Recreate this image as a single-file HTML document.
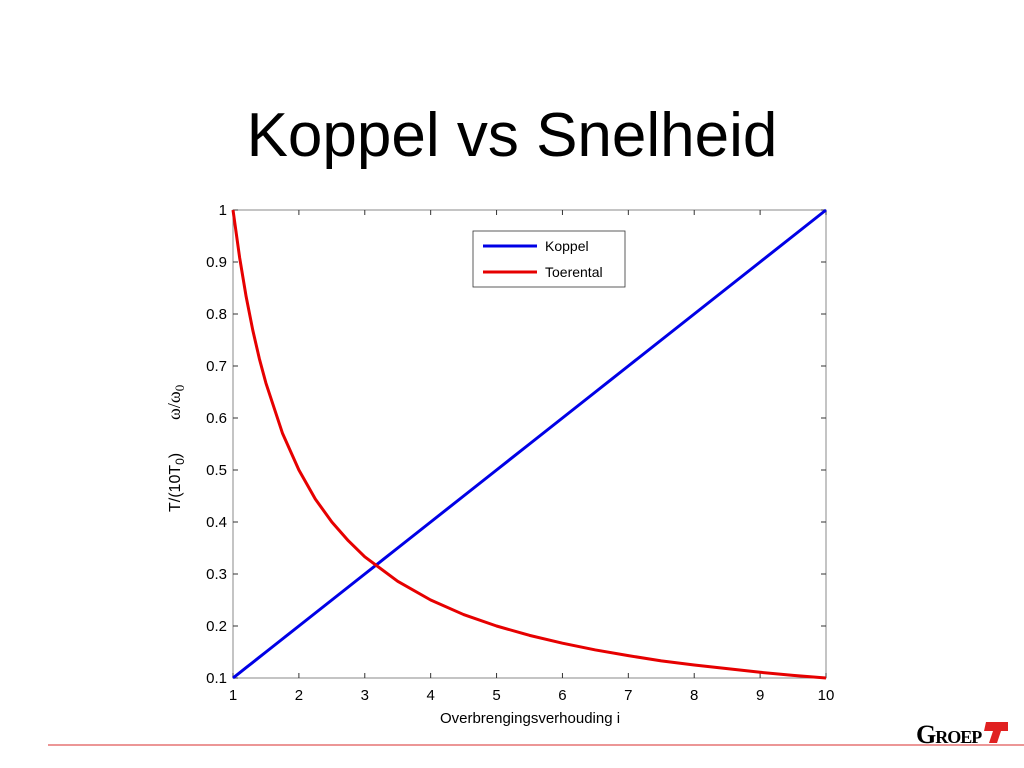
<!DOCTYPE html>
<html><head><meta charset="utf-8"><style>
body{margin:0;background:#fff;width:1024px;height:768px;overflow:hidden;font-family:"Liberation Sans",sans-serif}
svg{position:absolute;left:0;top:0}
</style></head><body>
<svg width="1024" height="768">
<text x="512" y="156" font-size="62" text-anchor="middle">Koppel vs Snelheid</text>
<rect x="233" y="210" width="593" height="468" fill="none" stroke="#888" stroke-width="1"/>
<g id="ticks"></g>
<g id="lines"></g>
<text x="530" y="723" font-size="15" text-anchor="middle">Overbrengingsverhouding i</text>
<g transform="translate(180,512) rotate(-90)">
<text x="0" y="0" font-size="16">T/(10T<tspan font-size="12" dy="4">0</tspan><tspan dy="-4">)</tspan></text>
<text x="92" y="0" font-size="18" font-family="Liberation Serif">ω/ω<tspan font-size="13" dy="4">0</tspan></text>
</g>
<g>
<rect x="473" y="231" width="152" height="56" fill="#fff" stroke="#333" stroke-width="0.8"/>
<line x1="483" y1="246" x2="537" y2="246" stroke="#0000e6" stroke-width="3"/>
<text x="545" y="251" font-size="14">Koppel</text>
<line x1="483" y1="272" x2="537" y2="272" stroke="#e60000" stroke-width="3"/>
<text x="545" y="277" font-size="14">Toerental</text>
</g>
<line x1="48" y1="745" x2="1024" y2="745" stroke="#e57373" stroke-width="1.5"/>
<g>
<text x="916" y="743" font-size="26" font-family="Liberation Serif" font-weight="bold" letter-spacing="-1">G<tspan font-size="18">ROEP</tspan></text>
<path d="M986 722 H1008 V731 H1001 L997 743 H989 L993 731 H984 Z" fill="#e02020"/>
</g>
</svg>
<script>
const xTicks=[1,2,3,4,5,6,7,8,9,10];
const yTicks=[0.1,0.2,0.3,0.4,0.5,0.6,0.7,0.8,0.9,1];
const yTickLabels=["0.1","0.2","0.3","0.4","0.5","0.6","0.7","0.8","0.9","1"];
const iValues=[1,1.1,1.2,1.3,1.4,1.5,1.75,2,2.25,2.5,2.75,3,3.5,4,4.5,5,5.5,6,6.5,7,7.5,8,8.5,9,9.5,10];
const koppel=[0.1,0.11,0.12,0.13,0.14,0.15,0.175,0.2,0.225,0.25,0.275,0.3,0.35,0.4,0.45,0.5,0.55,0.6,0.65,0.7,0.75,0.8,0.85,0.9,0.95,1.0];
const toerental=[1,0.909,0.833,0.769,0.714,0.667,0.571,0.5,0.444,0.4,0.364,0.333,0.286,0.25,0.222,0.2,0.182,0.167,0.154,0.143,0.133,0.125,0.118,0.111,0.105,0.1];
const X=v=>233+(v-1)/9*593, Y=v=>678-(v-0.1)/0.9*468;
const NS="http://www.w3.org/2000/svg";
const tg=document.getElementById('ticks'), lg=document.getElementById('lines');
function mk(tag,a,p){const e=document.createElementNS(NS,tag);for(const k in a)e.setAttribute(k,a[k]);p.appendChild(e);return e;}
xTicks.forEach(t=>{
 const x=X(t);
 mk('line',{x1:x,y1:678,x2:x,y2:673,stroke:'#333'},tg);
 mk('line',{x1:x,y1:210,x2:x,y2:215,stroke:'#333'},tg);
 const tx=mk('text',{x:x,y:700,'font-size':15,'text-anchor':'middle'},tg);tx.textContent=t;
 
 
});
yTicks.forEach((t,i)=>{
 const y=Y(t);
 mk('line',{x1:233,y1:y,x2:238,y2:y,stroke:'#333'},tg);
 mk('line',{x1:826,y1:y,x2:821,y2:y,stroke:'#333'},tg);
 const tx=mk('text',{x:227,y:y+5,'font-size':15,'text-anchor':'end'},tg);tx.textContent=yTickLabels[i];
 
 
});
function line(vals,color,name){
 const p=mk('polyline',{points:iValues.map((v,i)=>X(v)+','+Y(vals[i])).join(' '),fill:'none',stroke:color,'stroke-width':3,'stroke-linejoin':'round'},lg);
 
 
}
line(koppel,'#0000e6','koppel-line');
line(toerental,'#e60000','toerental-line');
</script>
</body></html>
